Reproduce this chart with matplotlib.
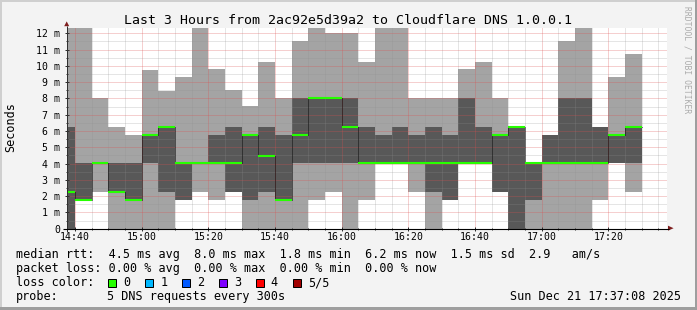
import matplotlib
matplotlib.use("Agg")
import matplotlib.pyplot as plt
from matplotlib.patches import Rectangle, Polygon
import numpy as np

plt.rcParams['font.family'] = ['DejaVu Sans Mono']

# ---------------- data (ms), one value per 5-minute bar ----------------
# bar end times in minutes after 14:00 (14:40 ... 17:30)
bar_end_minutes = [40, 45, 50, 55, 60, 65, 70, 75, 80, 85, 90, 95, 100, 105, 110,
                   115, 120, 125, 130, 135, 140, 145, 150, 155, 160, 165, 170, 175,
                   180, 185, 190, 195, 200, 205, 210]
ping_max = [12.5, 12.5, 8.0, 6.26, 5.74, 9.75, 8.46, 9.32, 12.5, 9.81, 8.52, 7.54,
            10.24, 8.0, 11.53, 12.5, 12.02, 12.02, 10.24, 12.5, 12.5, 8.0, 8.0, 8.0,
            9.81, 10.24, 8.0, 6.26, 4.02, 5.74, 11.53, 12.5, 6.26, 9.32, 10.73]
ping_4th = [6.26, 4.02, 4.02, 4.02, 4.02, 5.74, 6.26, 4.02, 4.02, 5.74, 6.26, 5.74,
            6.26, 5.74, 8.0, 8.0, 8.0, 8.0, 6.26, 5.74, 6.26, 5.74, 6.26, 5.74,
            8.0, 6.26, 5.74, 6.26, 4.02, 5.74, 8.0, 8.0, 6.26, 5.74, 6.26]
median_rtt = [2.27, 1.76, 4.02, 2.27, 1.76, 5.74, 6.26, 4.02, 4.02, 4.02, 4.02, 5.74,
              4.48, 1.76, 5.74, 8.0, 8.0, 6.26, 4.02, 4.02, 4.02, 4.02, 4.02, 4.02,
              4.02, 4.02, 5.74, 6.26, 4.02, 4.02, 4.02, 4.02, 4.02, 5.74, 6.26]
ping_2nd = [0.0, 1.76, 4.02, 2.27, 1.76, 4.02, 2.27, 1.76, 4.02, 4.02, 2.27, 1.76,
            2.27, 1.76, 4.02, 4.02, 4.02, 4.02, 4.02, 4.02, 4.02, 4.02, 2.27, 1.76,
            4.02, 4.02, 2.27, 0.0, 1.76, 4.02, 4.02, 4.02, 4.02, 4.02, 4.02]
ping_min = [0.0, 1.76, 2.27, 0.0, 0.0, 0.0, 0.0, 1.76, 2.27, 1.76, 2.27, 0.0,
            0.0, 0.0, 0.0, 1.76, 2.27, 0.0, 1.76, 4.02, 4.02, 2.27, 0.0, 1.76,
            4.02, 4.02, 2.27, 0.0, 0.0, 0.0, 0.0, 0.0, 1.76, 4.02, 2.27]

x_tick_minutes = [40, 60, 80, 100, 120, 140, 160, 180, 200]
x_tick_labels = ['14:40', '15:00', '15:20', '15:40', '16:00', '16:20', '16:40', '17:00', '17:20']
y_tick_values = list(range(0, 13))
y_tick_labels = ['0'] + ['%d m' % v for v in range(1, 13)]

title = 'Last 3 Hours from 2ac92e5d39a2 to Cloudflare DNS 1.0.0.1'
legend_rtt = 'median rtt:  4.5 ms avg  8.0 ms max  1.8 ms min  6.2 ms now  1.5 ms sd  2.9   am/s'
legend_loss = 'packet loss: 0.00 % avg  0.00 % max  0.00 % min  0.00 % now'
loss_labels = ['0', '1', '2', '3', '4', '5/5']
loss_colors = ['#26ff00', '#00b8ff', '#0059ff', '#7e00ff', '#ff0000', '#a10000']
probe_text = '5 DNS requests every 300s'
date_text = 'Sun Dec 21 17:37:08 2025'

# ---------------- figure ----------------
W, H = 697, 310
fig = plt.figure(figsize=(W / 100, H / 100), dpi=100, facecolor='#f3f3f3')

def fx(px):
    return px / W

def fy(py):
    return 1 - py / H

plot_left, plot_right, plot_top, plot_bottom = 66.7, 666.7, 28.3, 228.7
ax = fig.add_axes([fx(plot_left), fy(plot_bottom), (plot_right - plot_left) / W,
                   (plot_bottom - plot_top) / H], zorder=1)
ax.set_facecolor('white')

ends = np.array(bar_end_minutes, dtype=float)
starts = ends - 5
pmax = np.array(ping_max)
p4 = np.array(ping_4th)
med = np.array(median_rtt)
p2 = np.array(ping_2nd)
pmin = np.array(ping_min)

ax.bar(starts, pmax - pmin, width=5, bottom=pmin, align='edge', color='#a4a4a4',
       linewidth=0, antialiased=False, zorder=1)
ax.bar(starts, p4 - p2, width=5, bottom=p2, align='edge', color='#585858',
       linewidth=0, antialiased=False, zorder=1.1)

edges = np.concatenate([starts, ends[-1:]])
ax.stairs(med, edges, baseline=None, color='black', linewidth=0.72,
          linestyle=(0, (1, 1)), zorder=3)
ax.hlines(med, starts, ends, colors=loss_colors[0], linewidth=1.5, zorder=3.2,
          capstyle='butt')

ax.set_xlim(37.5, 217.5)
ax.set_ylim(0, (plot_bottom - plot_top) / 16.28)

ax.set_xticks(x_tick_minutes)
ax.set_xticklabels(x_tick_labels)
ax.set_xticks(np.arange(40, 218, 5), minor=True)
ax.set_yticks(y_tick_values)
ax.set_yticklabels(y_tick_labels)
ax.set_yticks(np.arange(0.5, 12.4, 0.5), minor=True)

ax.tick_params(which='major', direction='inout', length=2.2, width=0.72,
               color='#303030', labelsize=7.1, labelcolor='black')
ax.tick_params(which='minor', direction='inout', length=1.4, width=0.72,
               color='#303030')
ax.tick_params(axis='x', which='major', pad=1.2)
ax.tick_params(axis='y', which='major', pad=3.6)

ax.set_axisbelow(False)
ax.grid(True, which='major', color='#DE5050', alpha=0.55, linewidth=0.72,
        linestyle=(0, (1, 1)))
ax.grid(True, which='minor', color='#8F8F8F', alpha=0.45, linewidth=0.72,
        linestyle=(0, (1, 1)))
for s in ax.spines.values():
    s.set_visible(False)

# ---------------- overlay in pixel coordinates ----------------
ov = fig.add_axes([0, 0, 1, 1], zorder=5)
ov.set_xlim(0, W)
ov.set_ylim(H, 0)
ov.axis('off')
ov.patch.set_visible(False)

shade_a, shade_b = '#cfcfcf', '#9e9e9e'
ov.add_patch(Rectangle((0, 0), W, 2, color=shade_a, linewidth=0))
ov.add_patch(Rectangle((0, 0), 2, H, color=shade_a, linewidth=0))
ov.add_patch(Rectangle((W - 2, 0), 2, H, color=shade_b, linewidth=0))
ov.add_patch(Rectangle((0, H - 3), W, 3, color=shade_b, linewidth=0))

# axes lines and arrows
ov.plot([plot_left, plot_left], [231.5, 25.5], color='#303030', linewidth=0.72,
        solid_capstyle='butt')
ov.plot([63, 669], [plot_bottom, plot_bottom], color='black', linewidth=0.8,
        solid_capstyle='butt')
ov.add_patch(Polygon([(64.2, 26.2), (69.2, 26.2), (66.7, 21.4)], closed=True,
                     color='#7f1f1f', linewidth=0))
ov.add_patch(Polygon([(668.0, 225.7), (668.0, 230.7), (673.6, 228.2)], closed=True,
                     color='#7f1f1f', linewidth=0))

# texts
ov.text(347.5, 24, title, ha='center', va='baseline', fontsize=9.55, color='black')
ov.text(10.8, 127.5, 'Seconds', rotation=90, ha='center', va='center',
        fontsize=8.5, color='black')
ov.text(687.5, 60, 'RRDTOOL / TOBI OETIKER', rotation=270, ha='center',
        va='center', fontsize=5.8, color='#ababab')

ov.text(16, 258.3, legend_rtt, ha='left', va='baseline', fontsize=8.5)
ov.text(16, 272.3, legend_loss, ha='left', va='baseline', fontsize=8.5)
ov.text(16, 286.3, 'loss color:', ha='left', va='baseline', fontsize=8.5)
box_x = [108.3, 145.3, 182.2, 219.1, 256.4, 293.3]
label_x = [123.3, 160.2, 197.0, 233.9, 270.8, 307.7]
for bx, lx, lab, col in zip(box_x, label_x, loss_labels, loss_colors):
    ov.add_patch(Rectangle((bx, 278.7), 8.0, 8.0, facecolor=col, edgecolor='black',
                           linewidth=0.72))
    ov.text(lx, 286.3, lab, ha='left', va='baseline', fontsize=8.5)
ov.text(16, 300.0, 'probe:', ha='left', va='baseline', fontsize=8.5)
ov.text(107.0, 300.0, probe_text, ha='left', va='baseline', fontsize=8.5)
ov.text(680.5, 300.0, date_text, ha='right', va='baseline', fontsize=8.5)

fig.savefig('out.png', dpi=100, facecolor=fig.get_facecolor())
